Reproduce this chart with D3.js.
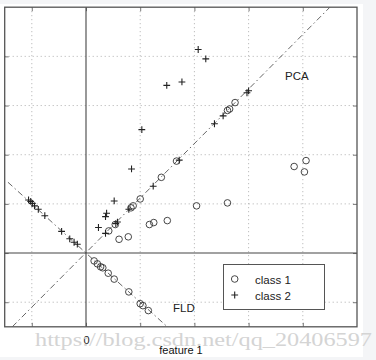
<!DOCTYPE html>
<html><head><meta charset="utf-8">
<script src="https://cdn.jsdelivr.net/npm/d3@7"></script>
<style>html,body{margin:0;padding:0;background:#f4f5f7;}svg{display:block;}</style>
</head><body>
<svg id="c" width="376" height="360"></svg>
<script>
// ---- data (feature space units) ----
const class1X = [1.17, 1.25, 1.50, 0.61, 0.78, 2.04, 2.61, 3.84, 4.06, 4.03];
const class1Y = [0.58, 0.62, 0.66, 0.28, 0.33, 0.96, 1.02, 1.76, 1.88, 1.65];
const class2X = [2.07, 2.21, 1.49, 1.77, 1.03, 0.84, 0.52, 0.38, 0.36, 0.23];
const class2Y = [4.14, 3.95, 3.41, 3.48, 2.51, 1.71, 1.06, 0.81, 0.74, 0.52];
// projections on PCA line
const pca1X = [0.83, 0.87, 1.00, 0.42, 0.54, 1.39, 1.67, 2.61, 2.75, 2.65];
const pca1Y = [0.92, 0.96, 1.10, 0.45, 0.58, 1.54, 1.87, 2.90, 3.06, 2.93];
const pca2X = [3.00, 2.97, 2.37, 2.53, 1.72, 1.24, 0.79, 0.58, 0.55, 0.36];
const pca2Y = [3.30, 3.26, 2.63, 2.79, 1.89, 1.36, 0.89, 0.63, 0.60, 0.40];
// projections on FLD line
const fld1X = [0.15, 0.21, 0.27, 0.31, 0.41, 0.52, 0.79, 1.00, 1.05, 1.15];
const fld1Y = [-0.16, -0.22, -0.28, -0.30, -0.41, -0.53, -0.79, -1.03, -1.07, -1.17];
const fld2X = [-1.06, -1.02, -0.99, -0.95, -0.88, -0.76, -0.45, -0.30, -0.22, -0.16];
const fld2Y = [1.08, 1.05, 1.01, 0.96, 0.89, 0.76, 0.44, 0.29, 0.22, 0.18];
// direction lines (end points)
const pcaLineX = [-1.36, 4.5];
const pcaLineY = [-1.5, 5.0];
const fldLineX = [-1.44, 1.5];
const fldLineY = [1.44, -1.5];
const xTicks = [-1, 0, 1, 2, 3, 4];
const yTicks = [-1, 0, 1, 2, 3, 4];
const xTickLabels = {"0": "0"};
const legendLabels = ["class 1", "class 2"];
const xTitle = "feature 1";

const svg = d3.select("#c");
// white figure area
svg.append("rect").attr("x",0).attr("y",4).attr("width",363).attr("height",353).attr("fill","#fff");

const L = 4.7, T = 7.2, R = 357, B = 326.8;
const x = d3.scaleLinear().domain([-1.5, 5]).range([L, R]);
const y = d3.scaleLinear().domain([-1.5, 5]).range([B, T]);

svg.append("clipPath").attr("id","clip").append("rect")
  .attr("x",L).attr("y",T).attr("width",R-L).attr("height",B-T);

// grid
const g = svg.append("g");
g.selectAll(".vg").data(xTicks.filter(d=>d!==0)).join("line")
  .attr("x1",d=>x(d)).attr("x2",d=>x(d)).attr("y1",T).attr("y2",B)
  .attr("stroke","#9a9a9a").attr("stroke-width",0.8).attr("stroke-dasharray","1,3");
g.selectAll(".hg").data(yTicks.filter(d=>d!==0)).join("line")
  .attr("y1",d=>y(d)).attr("y2",d=>y(d)).attr("x1",L).attr("x2",R)
  .attr("stroke","#9a9a9a").attr("stroke-width",0.8).attr("stroke-dasharray","1,3");

// axes via d3 axis (ticks inward)
const ax = svg.append("g").attr("transform",`translate(0,${B})`)
  .call(d3.axisBottom(x).tickValues(xTicks).tickSize(-4).tickFormat(d=>xTickLabels[d]||""));
const ay = svg.append("g").attr("transform",`translate(${L},0)`)
  .call(d3.axisLeft(y).tickValues(yTicks).tickSize(-4).tickFormat(""));
const axTop = svg.append("g").attr("transform",`translate(0,${T})`)
  .call(d3.axisTop(x).tickValues(xTicks).tickSize(-4).tickFormat(""));
const ayR = svg.append("g").attr("transform",`translate(${R},0)`)
  .call(d3.axisRight(y).tickValues(yTicks).tickSize(-4).tickFormat(""));
[ax,ay,axTop,ayR].forEach(a=>{
  a.select(".domain").remove();
  a.selectAll(".tick line").attr("stroke","#555").attr("stroke-width",0.8);
});
ax.selectAll(".tick text").attr("font-family","Liberation Sans, Arial, sans-serif")
  .attr("font-size",11).attr("fill","#222").attr("dy","1.3em");

// zero lines
svg.append("line").attr("x1",x(0)).attr("x2",x(0)).attr("y1",T).attr("y2",B)
  .attr("stroke","#444").attr("stroke-width",1.1);
svg.append("line").attr("x1",L).attr("x2",R).attr("y1",y(0)).attr("y2",y(0))
  .attr("stroke","#444").attr("stroke-width",1.1);

// frame
svg.append("rect").attr("x",L).attr("y",T).attr("width",R-L).attr("height",B-T)
  .attr("fill","none").attr("stroke","#555").attr("stroke-width",1.3);

// direction lines
const line = d3.line().x(d=>x(d[0])).y(d=>y(d[1]));
const plot = svg.append("g").attr("clip-path","url(#clip)");
plot.append("path").attr("d",line(d3.zip(pcaLineX,pcaLineY)))
  .attr("stroke","#555").attr("stroke-width",0.9).attr("fill","none").attr("stroke-dasharray","6,3,1.5,3");
plot.append("path").attr("d",line(d3.zip(fldLineX,fldLineY)))
  .attr("stroke","#555").attr("stroke-width",0.9).attr("fill","none").attr("stroke-dasharray","6,3,1.5,3");

function circles(xs, ys){
  plot.append("g").selectAll("circle").data(d3.zip(xs,ys)).join("circle")
    .attr("cx",d=>x(d[0])).attr("cy",d=>y(d[1])).attr("r",3.3)
    .attr("fill","none").attr("stroke","#333").attr("stroke-width",0.9);
}
const plusPath = d3.symbol().type(d3.symbolCross).size(0);
function pluses(xs, ys){
  const s = 3.4;
  plot.append("g").selectAll("path").data(d3.zip(xs,ys)).join("path")
    .attr("d",d=>`M${x(d[0])-s},${y(d[1])}H${x(d[0])+s}M${x(d[0])},${y(d[1])-s}V${y(d[1])+s}`)
    .attr("stroke","#222").attr("stroke-width",1.1).attr("fill","none");
}
circles(class1X, class1Y);
circles(pca1X, pca1Y);
circles(fld1X, fld1Y);
pluses(class2X, class2Y);
pluses(pca2X, pca2Y);
pluses(fld2X, fld2Y);

// labels
const font = "Liberation Sans, Arial, sans-serif";
svg.append("text").attr("x",285).attr("y",80).text("PCA")
  .attr("font-family",font).attr("font-size",11.5).attr("fill","#222");
svg.append("text").attr("x",173).attr("y",312).text("FLD")
  .attr("font-family",font).attr("font-size",11.5).attr("fill","#222");

// legend
const lg = svg.append("g");
lg.append("rect").attr("x",223.5).attr("y",264.5).attr("width",101).attr("height",45)
  .attr("fill","#fff").attr("stroke","#555").attr("stroke-width",1);
lg.append("circle").attr("cx",234.7).attr("cy",279).attr("r",3.3)
  .attr("fill","none").attr("stroke","#333").attr("stroke-width",0.9);
lg.append("path").attr("d","M231.3,295H238.1M234.7,291.6V298.4").attr("stroke","#222").attr("stroke-width",1.1);
lg.selectAll("text").data(legendLabels).join("text")
  .attr("x",255).attr("y",(d,i)=>283.5+i*16).text(d=>d)
  .attr("font-family",font).attr("font-size",11.5).attr("fill","#222");

// watermark
svg.append("text").attr("x",35).attr("y",346).text("https://blog.csdn.net/qq_20406597")
  .attr("font-family","Liberation Serif, DejaVu Serif, serif").attr("font-size",18)
  .attr("textLength",337).attr("lengthAdjust","spacingAndGlyphs")
  .attr("fill","#d4d4d4");

// x title
svg.append("text").attr("x",181).attr("y",353.5).attr("text-anchor","middle").text(xTitle)
  .attr("font-family",font).attr("font-size",11).attr("fill","#111");
</script>
</body></html>
